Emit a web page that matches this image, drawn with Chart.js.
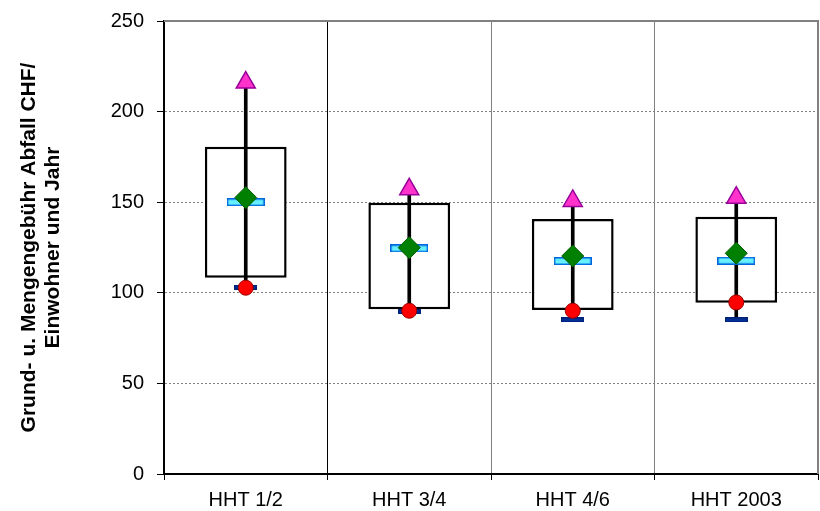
<!DOCTYPE html>
<html>
<head>
<meta charset="utf-8">
<script src="https://cdn.jsdelivr.net/npm/chart.js@4.4.1/dist/chart.umd.min.js"></script>
<style>
  html, body { margin: 0; padding: 0; background: #fff; }
  #wrap { width: 820px; height: 511px; }
</style>
</head>
<body>
<div id="wrap"><canvas id="chart"></canvas></div>
<script>
// values
const categories = ['HHT 1/2', 'HHT 3/4', 'HHT 4/6', 'HHT 2003'];
const boxLow = [108.3, 90.9, 90.5, 94.5];
const boxHigh = [180.6, 149.7, 140.7, 142.0];
const minVals = [103.0, 89.6, 85.0, 85.0];
const maxVals = [216.0, 157.1, 150.7, 152.5];
const meanVals = [152.5, 124.9, 120.3, 121.8];
const medianVals = [150.0, 124.5, 117.5, 117.7];
const lowVals = [102.8, 90.1, 90.1, 94.7];
const yTicks = [0, 50, 100, 150, 200, 250];
const yTitle = ['Grund- u. Mengengebühr Abfall CHF/', 'Einwohner und Jahr'];

const FONT = "Arial, 'Liberation Sans', sans-serif";

// small flat markers (median bar, min dash)
const makeBar = (w, h, fill, stroke) => {
    const c = document.createElement('canvas');
    c.width = w;
    c.height = h;
    const g = c.getContext('2d');
    g.fillStyle = stroke;
    g.fillRect(0, 0, w, h);
    g.fillStyle = fill;
    g.fillRect(1.5, 1.5, w - 3, h - 3);
    return c;
};
const medianMark = makeBar(38, 8, '#66F0FF', '#0066DD');
const minMark = makeBar(23, 5, '#0033A0', '#00237A');

// gray frame on top and right of the plot area
const framePlugin = {
    id: 'frame',
    beforeDatasetsDraw(chart) {
        const { ctx, chartArea: a } = chart;
        ctx.save();
        ctx.strokeStyle = '#808080';
        ctx.lineWidth = 2;
        ctx.beginPath();
        ctx.moveTo(a.left, a.top);
        ctx.lineTo(a.right, a.top);
        ctx.lineTo(a.right, a.bottom);
        ctx.stroke();
        ctx.restore();
    }
};

const ctx = document.getElementById('chart').getContext('2d');
const chart = new Chart(ctx, {
    type: 'bar',
    data: {
        labels: categories,
        datasets: [
            {
                type: 'line', label: 'Max', data: maxVals, showLine: false,
                pointStyle: 'triangle', pointRadius: 11,
                backgroundColor: '#FF33CC', borderColor: '#990099', borderWidth: 1.5,
                order: 0,
            },
            {
                type: 'line', label: 'Mittelwert', data: meanVals, showLine: false,
                pointStyle: 'rectRot', pointRadius: 11,
                backgroundColor: '#008000', borderColor: '#005A00', borderWidth: 1,
                order: 1,
            },
            {
                type: 'line', label: 'Unten', data: lowVals, showLine: false,
                pointStyle: 'circle', pointRadius: 7.5,
                backgroundColor: '#FF0000', borderColor: '#990000', borderWidth: 1,
                order: 2,
            },
            {
                type: 'line', label: 'Min', data: minVals, showLine: false,
                pointStyle: minMark,
                order: 3,
            },
            {
                type: 'line', label: 'Median', data: medianVals, showLine: false,
                pointStyle: medianMark,
                order: 4,
            },
            {
                label: 'Spanne', data: minVals.map((v, i) => [v, maxVals[i]]),
                backgroundColor: '#000', borderWidth: 0, barThickness: 3,
                grouped: false, order: 5,
            },
            {
                label: 'Box', data: boxLow.map((v, i) => [v, boxHigh[i]]),
                backgroundColor: '#fff', borderColor: '#000', borderWidth: 2.5,
                borderSkipped: false, barPercentage: 0.5, categoryPercentage: 1,
                grouped: false, order: 6,
            },
        ],
    },
    options: {
        responsive: true,
        maintainAspectRatio: false,
        animation: false,
        events: [],
        layout: { autoPadding: false, padding: { left: 0, right: 2, top: 21, bottom: 0 } },
        plugins: {
            legend: { display: false },
            tooltip: { enabled: false },
        },
        scales: {
            x: {
                offset: true,
                afterFit: s => {
                    s.height = 37;
                    s.paddingLeft = 0;
                    s.paddingRight = 0;
                },
                grid: {
                    offset: true,
                    color: c => c.index === 0 ? 'rgba(0,0,0,0)' : (c.index === 1 ? '#000' : '#808080'),
                    lineWidth: 1,
                    tickLength: 6,
                    tickColor: '#000',
                },
                border: { color: '#000', width: 2 },
                ticks: { color: '#000', font: { family: FONT, size: 20 }, padding: 8 },
            },
            y: {
                min: 0,
                max: 250,
                afterFit: s => {
                    s.width = 164;
                    s.paddingTop = 0;
                    s.paddingBottom = 0;
                },
                afterBuildTicks: s => { s.ticks = yTicks.map(v => ({ value: v })); },
                grid: {
                    color: c => (c.tick && c.tick.value > 0 && c.tick.value < 250) ? '#808080' : 'rgba(0,0,0,0)',
                    lineWidth: 1,
                    tickLength: 7,
                    tickColor: '#000',
                },
                border: { color: '#000', width: 2, dash: [2, 2] },
                ticks: { color: '#000', font: { family: FONT, size: 20 }, padding: 13 },
                title: {
                    display: true,
                    text: yTitle,
                    color: '#000',
                    font: { family: FONT, size: 21, weight: 'bold', lineHeight: 1.15 },
                    padding: { top: 17, bottom: 0 },
                },
            },
        },
    },
    plugins: [framePlugin],
});
</script>
</body>
</html>
